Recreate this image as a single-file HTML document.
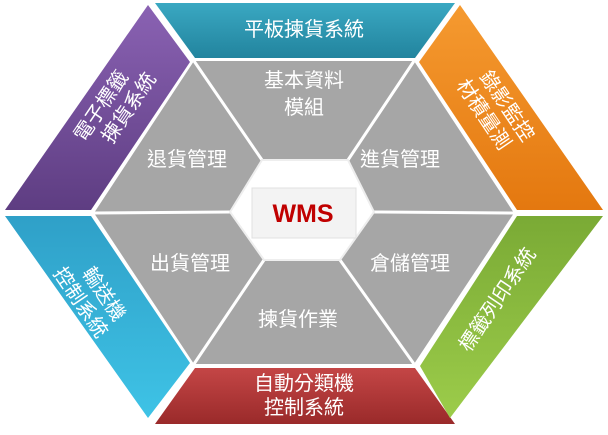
<!DOCTYPE html>
<html><head><meta charset="utf-8"><style>
body{margin:0;background:#fff;}
svg text{font-family:"Liberation Sans","Noto Sans CJK TC",sans-serif;fill:#fff;}
</style></head><body>
<svg width="608" height="430" viewBox="0 0 608 430" xmlns="http://www.w3.org/2000/svg">
<defs>
<linearGradient id="t" x1="0" y1="0" x2="0" y2="1"><stop offset="0" stop-color="#3aa8c2"/><stop offset="1" stop-color="#22849e"/></linearGradient>
<linearGradient id="p" x1="0" y1="0" x2="0" y2="1"><stop offset="0" stop-color="#8a62b3"/><stop offset="1" stop-color="#5e3d82"/></linearGradient>
<linearGradient id="o" x1="0" y1="0" x2="0" y2="1"><stop offset="0" stop-color="#f59a30"/><stop offset="1" stop-color="#e4780f"/></linearGradient>
<linearGradient id="b" x1="0" y1="0" x2="0" y2="1"><stop offset="0" stop-color="#2fa0c8"/><stop offset="1" stop-color="#3ec3e6"/></linearGradient>
<linearGradient id="r" x1="0" y1="0" x2="0" y2="1"><stop offset="0" stop-color="#c44646"/><stop offset="1" stop-color="#9a2a2a"/></linearGradient>
<linearGradient id="g" x1="0" y1="0" x2="0" y2="1"><stop offset="0" stop-color="#7aaa35"/><stop offset="1" stop-color="#9ccc4a"/></linearGradient>
</defs>
<polygon points="155,3 455,3 415,58 195,58" fill="url(#t)"/>
<polygon points="148,5 190,62 91,210 5,210" fill="url(#p)"/>
<polygon points="460,5 603,210 517,210 419,62" fill="url(#o)"/>
<polygon points="5,216 91,216 190,363 148,418" fill="url(#b)"/>
<polygon points="195,368 415,368 455,424 155,424" fill="url(#r)"/>
<polygon points="517,216 603,216 450,418 420,366" fill="url(#g)"/>
<polygon points="194,61 414,61 514,213 414,364 194,364 94,213" fill="#a6a6a6"/>
<g stroke="#fff" stroke-width="3">
<line x1="194" y1="61" x2="262" y2="160"/><line x1="414" y1="61" x2="348" y2="160"/>
<line x1="514" y1="213" x2="374" y2="212"/><line x1="414" y1="364" x2="340" y2="260"/>
<line x1="194" y1="364" x2="264" y2="260"/><line x1="94" y1="213" x2="230" y2="212"/>
</g>
<polygon points="230,212 262,160 348,160 374,212 340,260 264,260" fill="#fff" stroke="#eee" stroke-width="2"/>
<rect x="252" y="188" width="104" height="50" fill="#f3f3f3" stroke="#e0e0e0"/>
<text x="303" y="222" font-size="25" font-weight="bold" style="fill:#c00000" text-anchor="middle">WMS</text>
<g font-size="20" text-anchor="middle">
<text x="304" y="36">平板揀貨系統</text>
<text x="304" y="87">基本資料</text><text x="304" y="114">模組</text>
<text x="187" y="166">退貨管理</text>
<text x="400" y="166">進貨管理</text>
<text x="190" y="270">出貨管理</text>
<text x="410" y="270">倉儲管理</text>
<text x="298" y="326">揀貨作業</text>
<text x="304" y="390">自動分類機</text><text x="304" y="414">控制系統</text>
<text transform="translate(110,112) rotate(-56)" y="-4">電子標籤</text>
<text transform="translate(110,112) rotate(-56)" x="14" y="20">揀貨系統</text>
<text transform="translate(498,112) rotate(56)" y="-4">錄影監控</text>
<text transform="translate(498,112) rotate(56)" x="-6" y="20">材積量測</text>
<text transform="translate(95,300) rotate(56)" y="-4">輸送機</text>
<text transform="translate(95,300) rotate(56)" x="-6" y="20">控制系統</text>
<text transform="translate(498,300) rotate(-56)" y="6">標籤列印系統</text>
</g>
</svg>
</body></html>
